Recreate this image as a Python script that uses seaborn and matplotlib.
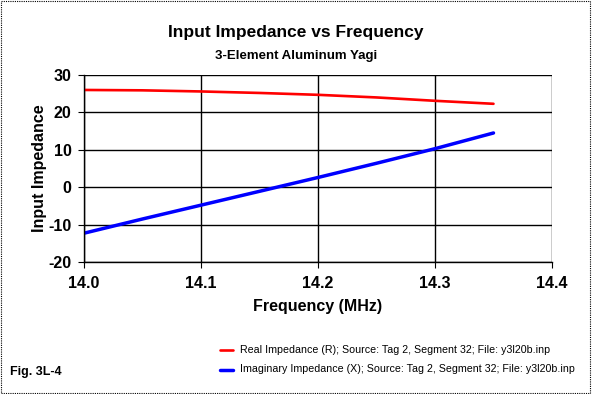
import numpy as np
import pandas as pd
import matplotlib.pyplot as plt
import seaborn as sns
from matplotlib.patches import Rectangle

# values
freq = [14.0, 14.05, 14.1, 14.15, 14.2, 14.25, 14.3, 14.35]
real_r = [26.0, 25.9, 25.6, 25.2, 24.7, 24.0, 23.1, 22.3]
imag_x = [-12.3, -8.5, -4.8, -1.1, 2.6, 6.4, 10.3, 14.5]
series_names = ['Real Impedance (R); Source: Tag 2, Segment 32; File: y3l20b.inp',
                'Imaginary Impedance (X); Source: Tag 2, Segment 32; File: y3l20b.inp']
x_ticks = [14.0, 14.1, 14.2, 14.3, 14.4]
y_ticks = [-20, -10, 0, 10, 20, 30]

sns.set_style('white')
plt.rcParams['font.family'] = ['Liberation Sans', 'DejaVu Sans']
plt.rcParams['text.color'] = 'black'
plt.rcParams['axes.labelcolor'] = 'black'
plt.rcParams['xtick.color'] = 'black'
plt.rcParams['ytick.color'] = 'black'

df = pd.DataFrame({
    'freq': freq * 2,
    'value': real_r + imag_x,
    'series': [series_names[0]] * len(freq) + [series_names[1]] * len(freq),
})

fig = plt.figure(figsize=(5.92, 3.94), dpi=100)
ax = fig.add_axes([84 / 592, 1 - 262 / 394, 468 / 592, 187 / 394])

sns.lineplot(data=df, x='freq', y='value', hue='series',
             palette={series_names[0]: '#ff0000', series_names[1]: '#0000ff'},
             ax=ax, legend=False)
ax.lines[0].set_linewidth(1.9)
ax.lines[1].set_linewidth(2.5)

ax.set_xlim(14.0, 14.4)
ax.set_ylim(-20, 30)
ax.set_xticks(x_ticks)
ax.set_xticklabels([f'{t:.1f}' for t in x_ticks])
ax.set_yticks(y_ticks)
ax.set_yticklabels([str(t) for t in y_ticks])
ax.tick_params(axis='both', labelsize=11.5, length=4, color='black', direction='out',
               bottom=True, left=True)
ax.tick_params(axis='x', pad=6)
ax.tick_params(axis='y', pad=5)
for lab in ax.get_xticklabels() + ax.get_yticklabels():
    lab.set_fontweight('bold')
ax.grid(True, color='black', linewidth=1)
ax.set_axisbelow(True)
for side in ['top', 'right']:
    ax.spines[side].set_visible(False)
for side in ['left', 'bottom']:
    ax.spines[side].set_color('black')
    ax.spines[side].set_linewidth(1)

ax.set_xlabel('Frequency (MHz)', fontsize=11.5, fontweight='bold', labelpad=6)
ax.set_ylabel('Input Impedance', fontsize=11.5, fontweight='bold', labelpad=1)

fig.text(0.5, 1 - 33 / 394, 'Input Impedance vs Frequency', ha='center', va='center',
         fontsize=12.5, fontweight='bold')
fig.text(0.5, 1 - 56 / 394, '3-Element Aluminum Yagi', ha='center', va='center',
         fontsize=9.5, fontweight='bold')
fig.text(10 / 592, 1 - 372 / 394, 'Fig. 3L-4', ha='left', va='center',
         fontsize=9, fontweight='bold')

# legend drawn manually below the plot
for i, (name, col, lw) in enumerate(zip(series_names, ['#ff0000', '#0000ff'], [1.9, 2.5])):
    yy = 1 - (350 + i * 19.5) / 394
    fig.add_artist(plt.Line2D([220 / 592, 233 / 592], [yy, yy], color=col, linewidth=lw,
                              transform=fig.transFigure))
    fig.text(240 / 592, yy, name, ha='left', va='center', fontsize=7.7)

fig.add_artist(Rectangle((0.002, 0.003), 0.995, 0.994, transform=fig.transFigure,
                         fill=False, edgecolor='black', linewidth=0.8, linestyle=(0, (1, 1))))

fig.savefig('out.png', dpi=100)
